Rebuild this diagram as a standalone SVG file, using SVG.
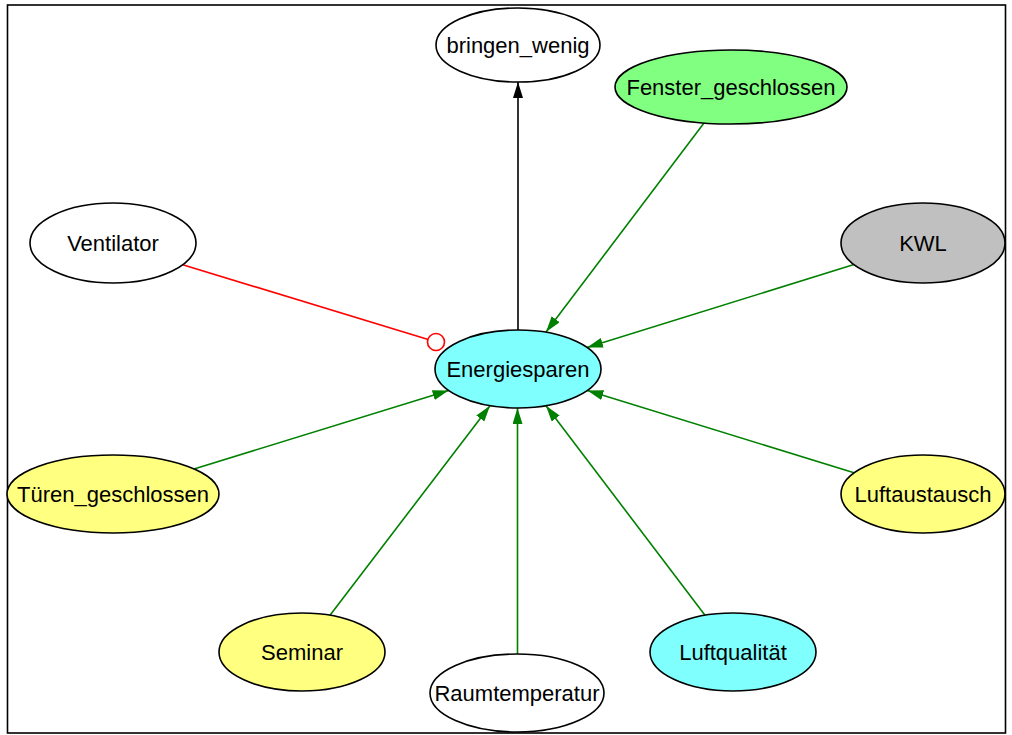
<svg xmlns="http://www.w3.org/2000/svg" width="1012" height="735" viewBox="0 0 1012 735">
<style>
.n ellipse{stroke:#000;stroke-width:1.6}
.n text{font-family:"Liberation Sans",Arial,sans-serif;font-size:22px;text-anchor:middle;fill:#000}
.w{fill:#fff}.c{fill:#80ffff}.g{fill:#80ff80}.y{fill:#ffff80}.s{fill:#c0c0c0}
.e line{stroke-width:1.6}
.gr{stroke:#008000}
</style>
<defs>
<marker id="ag" markerUnits="userSpaceOnUse" markerWidth="17" markerHeight="11" refX="16" refY="5" orient="auto"><path d="M0,0 L16,5 L0,10 z" fill="#008000"/></marker>
<marker id="ab" markerUnits="userSpaceOnUse" markerWidth="17" markerHeight="11" refX="16" refY="5" orient="auto"><path d="M0,0 L16,5 L0,10 z" fill="#000"/></marker>
</defs>
<rect x="7.5" y="5" width="998" height="728" fill="#fff" stroke="#000" stroke-width="1.6"/>
<g id="edges" class="e">
<line x1="518" y1="330" x2="518" y2="82" stroke="#000" marker-end="url(#ab)"/>
<line class="gr" x1="704" y1="123" x2="546" y2="332" marker-end="url(#ag)"/>
<line class="gr" x1="854" y1="264.5" x2="587" y2="347.5" marker-end="url(#ag)"/>
<line x1="182.7" y1="264.7" x2="427.4" y2="339.3" stroke="#ff0000"/>
<circle cx="436" cy="342" r="8.5" fill="none" stroke="#ff0000" stroke-width="1.6"/>
<line class="gr" x1="194" y1="469" x2="448.6" y2="390.4" marker-end="url(#ag)"/>
<line class="gr" x1="854" y1="472.8" x2="587.4" y2="390.4" marker-end="url(#ag)"/>
<line class="gr" x1="330" y1="615.3" x2="490" y2="405.7" marker-end="url(#ag)"/>
<line class="gr" x1="517.5" y1="654" x2="517.5" y2="408" marker-end="url(#ag)"/>
<line class="gr" x1="705" y1="615.2" x2="546" y2="405.8" marker-end="url(#ag)"/>
</g>
<g id="bringen_wenig" class="n"><ellipse class="w" cx="518" cy="45" rx="82" ry="37"/><text x="518" y="53">bringen_wenig</text></g>
<g id="Fenster_geschlossen" class="n"><ellipse class="g" cx="731" cy="87" rx="116" ry="37"/><text x="731" y="95">Fenster_geschlossen</text></g>
<g id="Ventilator" class="n"><ellipse class="w" cx="113" cy="243" rx="83" ry="40"/><text x="113" y="251">Ventilator</text></g>
<g id="KWL" class="n"><ellipse class="s" cx="923" cy="243" rx="82" ry="40"/><text x="923" y="251">KWL</text></g>
<g id="Energiesparen" class="n"><ellipse class="c" cx="518" cy="369" rx="83" ry="39"/><text x="518" y="377">Energiesparen</text></g>
<g id="Tueren_geschlossen" class="n"><ellipse class="y" cx="113" cy="494" rx="106" ry="39"/><text x="113" y="502">Türen_geschlossen</text></g>
<g id="Luftaustausch" class="n"><ellipse class="y" cx="923" cy="494" rx="82" ry="39"/><text x="923" y="502">Luftaustausch</text></g>
<g id="Seminar" class="n"><ellipse class="y" cx="302" cy="652" rx="83" ry="39"/><text x="302" y="660">Seminar</text></g>
<g id="Raumtemperatur" class="n"><ellipse class="w" cx="517" cy="693" rx="87" ry="39"/><text x="517" y="701">Raumtemperatur</text></g>
<g id="Luftqualitaet" class="n"><ellipse class="c" cx="733" cy="652" rx="83" ry="39"/><text x="733" y="660">Luftqualität</text></g>
</svg>
